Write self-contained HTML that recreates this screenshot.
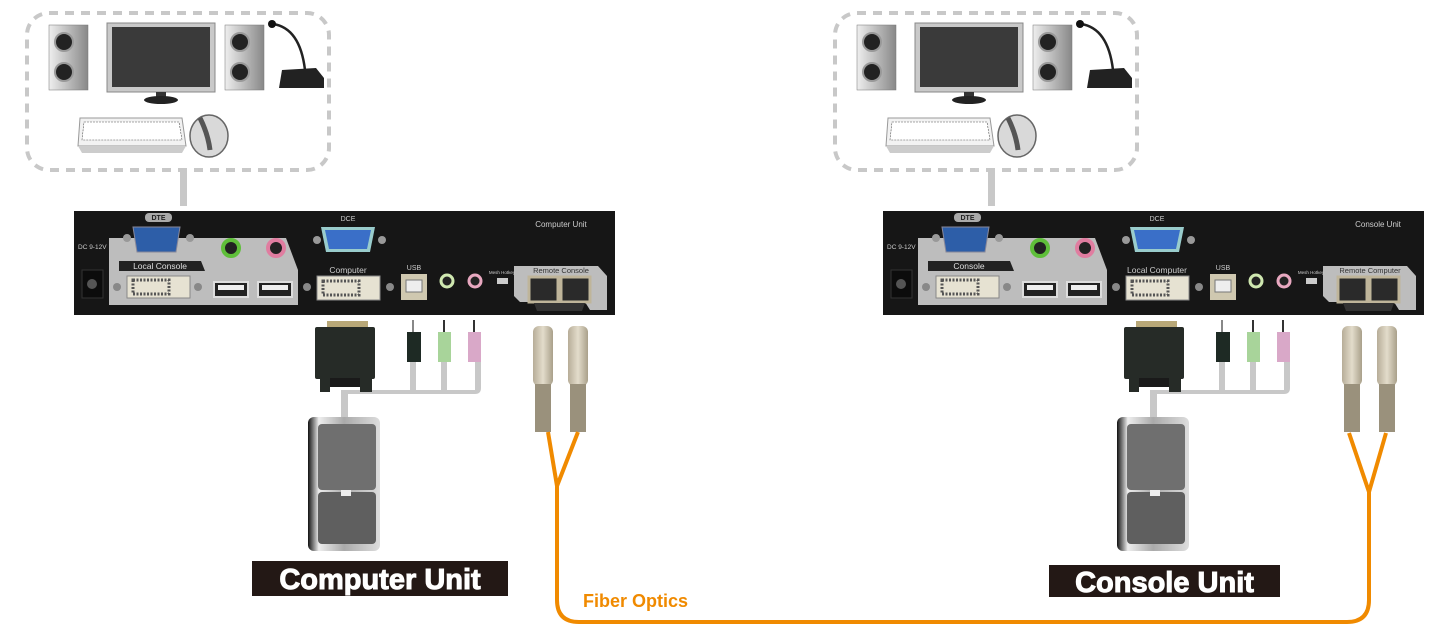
<!DOCTYPE html>
<html><head><meta charset="utf-8"><style>
html,body{margin:0;padding:0;background:#fff;}
svg{display:block;}
text{font-family:"Liberation Sans",sans-serif;}
</style></head><body>
<svg width="1450" height="634" viewBox="0 0 1450 634" xmlns="http://www.w3.org/2000/svg">
<defs>
<linearGradient id="spk" x1="0" x2="1"><stop offset="0" stop-color="#eee"/><stop offset=".5" stop-color="#bbb"/><stop offset="1" stop-color="#888"/></linearGradient>
<linearGradient id="tw" x1="0" x2="1"><stop offset="0" stop-color="#111"/><stop offset=".15" stop-color="#eee"/><stop offset=".5" stop-color="#aaa"/><stop offset="1" stop-color="#ddd"/></linearGradient>
<linearGradient id="fc" x1="0" x2="1"><stop offset="0" stop-color="#b7ad98"/><stop offset=".5" stop-color="#e3dccb"/><stop offset="1" stop-color="#a9a08a"/></linearGradient>
<g id="periph">
 <rect x="27" y="13" width="302" height="157" rx="22" fill="none" stroke="#c8c8c8" stroke-width="4" stroke-dasharray="9 7"/>
 <rect x="180" y="170" width="7" height="36" fill="#c8c8c8"/>
 <rect x="49" y="25" width="39" height="65" fill="url(#spk)" stroke="#777" stroke-width="0.5"/>
 <circle cx="64" cy="42" r="9" fill="#222" stroke="#999" stroke-width="2"/><circle cx="64" cy="72" r="9" fill="#222" stroke="#999" stroke-width="2"/>
 <rect x="225" y="25" width="39" height="65" fill="url(#spk)" stroke="#777" stroke-width="0.5"/>
 <circle cx="240" cy="42" r="9" fill="#222" stroke="#999" stroke-width="2"/><circle cx="240" cy="72" r="9" fill="#222" stroke="#999" stroke-width="2"/>
 <rect x="107" y="23" width="108" height="69" fill="#c9c9c9" stroke="#888"/>
 <rect x="112" y="27" width="98" height="60" fill="#3a3a3a"/>
 <rect x="156" y="92" width="10" height="5" fill="#333"/><ellipse cx="161" cy="100" rx="17" ry="4" fill="#222"/>
 <path d="M273,24 Q300,28 305,70" fill="none" stroke="#222" stroke-width="2.5"/><circle cx="272" cy="24" r="4" fill="#111"/>
 <path d="M282,70 L316,68 L324,78 L324,88 L279,88 Z" fill="#222"/>
 <path d="M80,118 L182,118 L186,146 L78,146 Z" fill="#f2f2f2" stroke="#999"/>
 <path d="M84,122 L179,122 L182,140 L82,140 Z" fill="#fff" stroke="#555" stroke-width="0.6" stroke-dasharray="2 1"/>
 <path d="M78,146 L186,146 L182,153 L82,153 Z" fill="#ccc"/>
 <ellipse cx="209" cy="136" rx="19" ry="21" fill="#d9d9d9" stroke="#666" stroke-width="1.5"/>
 <path d="M200,118 Q208,134 210,150" stroke="#555" stroke-width="5" fill="none"/>
</g>
<g id="unit">
 <rect x="74" y="211" width="541" height="104" fill="#161616"/>
 <path d="M109,238 L286,238 L298,270 L298,305 L109,305 Z" fill="#bdbdbd"/>
 <path d="M119,261 L201,261 L205,271 L119,271 Z" fill="#222"/>
 <rect x="145" y="213" width="27" height="9" rx="4" fill="#aaa"/>
 <path d="M133,227 L180,227 L176,252 L137,252 Z" fill="#2d5ea8" stroke="#889" stroke-width="1"/>
 <circle cx="127" cy="238" r="4" fill="#999"/><circle cx="190" cy="238" r="4" fill="#999"/>
 <circle cx="231" cy="248" r="8" fill="#222" stroke="#5fbf3a" stroke-width="4"/>
 <circle cx="276" cy="248" r="8" fill="#222" stroke="#e07da0" stroke-width="4"/>
 <rect x="127" y="276" width="63" height="22" fill="#e6e2d2" stroke="#888"/>
 <rect x="133" y="280" width="36" height="14" fill="none" stroke="#555" stroke-dasharray="2 1.5" stroke-width="3"/>
 <circle cx="117" cy="287" r="4" fill="#888"/><circle cx="198" cy="287" r="4" fill="#888"/>
 <rect x="214" y="282" width="34" height="15" fill="#222" stroke="#ddd" stroke-width="2"/><rect x="218" y="285" width="26" height="5" fill="#eee"/>
 <rect x="258" y="282" width="34" height="15" fill="#222" stroke="#ddd" stroke-width="2"/><rect x="262" y="285" width="26" height="5" fill="#eee"/>
 <rect x="82" y="270" width="21" height="28" fill="#0c0c0c" stroke="#333"/><circle cx="92" cy="284" r="5" fill="#555"/>
 <rect x="317" y="276" width="63" height="24" fill="#e6e2d2" stroke="#888"/>
 <rect x="323" y="281" width="36" height="14" fill="none" stroke="#555" stroke-dasharray="2 1.5" stroke-width="3"/>
 <circle cx="307" cy="287" r="4" fill="#888"/><circle cx="390" cy="287" r="4" fill="#888"/>
 <path d="M321,227 L375,227 L370,252 L326,252 Z" fill="#9cc" /><path d="M325,230 L371,230 L367,249 L329,249 Z" fill="#3a6fc8"/>
 <circle cx="317" cy="240" r="4" fill="#999"/><circle cx="382" cy="240" r="4" fill="#999"/>
 <rect x="401" y="274" width="26" height="26" fill="#cfc8b0"/><rect x="406" y="280" width="16" height="12" fill="#eee" stroke="#777"/>
 <circle cx="447" cy="281" r="6" fill="#222" stroke="#cfe8b0" stroke-width="3"/>
 <circle cx="475" cy="281" r="6" fill="#222" stroke="#e8a8c0" stroke-width="3"/>
 <rect x="497" y="278" width="11" height="6" fill="#ccc"/>
 <path d="M514,266 L598,266 L607,276 L607,310 L590,310 L585,302 L520,302 L514,296 Z" fill="#bdbdbd"/>
 <rect x="529" y="277" width="29" height="25" fill="#2a2a2a" stroke="#bfb59a" stroke-width="3"/>
 <rect x="561" y="277" width="29" height="25" fill="#2a2a2a" stroke="#bfb59a" stroke-width="3"/>
 <path d="M534,303 L585,303 L582,311 L537,311 Z" fill="#333"/>
 <g fill="#c8c8c8"><rect x="341" y="392" width="7" height="26"/><path d="M341,394 L475,394 Q481,394 481,388 L481,360 L475,360 L475,390 L341,390 Z"/>
 <rect x="410" y="360" width="6" height="34"/><rect x="441" y="360" width="6" height="34"/></g>
 <rect x="327" y="321" width="41" height="7" fill="#b8a878"/>
 <rect x="315" y="327" width="60" height="52" rx="2" fill="#262b27"/>
 <rect x="320" y="378" width="10" height="14" fill="#262b27"/><rect x="360" y="378" width="12" height="14" fill="#262b27"/><rect x="330" y="378" width="30" height="9" fill="#1a1a1a"/>
 <rect x="412" y="320" width="2" height="12" fill="#888"/><rect x="407" y="332" width="14" height="30" fill="#1e2a24"/>
 <rect x="443" y="320" width="2" height="12" fill="#333"/><rect x="438" y="332" width="13" height="30" fill="#a8d49a"/>
 <rect x="473" y="320" width="2" height="12" fill="#333"/><rect x="468" y="332" width="13" height="30" fill="#d9a8c8"/>
 <rect x="533" y="326" width="20" height="60" rx="6" fill="url(#fc)"/><rect x="535" y="384" width="16" height="48" fill="#9a917c"/>
 <rect x="568" y="326" width="20" height="60" rx="6" fill="url(#fc)"/><rect x="570" y="384" width="16" height="48" fill="#9a917c"/>
 <rect x="308" y="417" width="72" height="134" rx="6" fill="url(#tw)"/>
 <rect x="318" y="424" width="58" height="66" rx="4" fill="#6f6f6f"/><rect x="318" y="492" width="58" height="52" rx="4" fill="#5f5f5f"/>
 <rect x="341" y="490" width="10" height="6" fill="#eee"/>
</g>
</defs>
<use href="#periph"/>
<use href="#periph" x="808"/>
<use href="#unit"/>
<use href="#unit" x="809"/>
<g font-size="7" fill="#ccc">
 <text x="158.5" y="220" text-anchor="middle" fill="#222" font-size="7" font-weight="bold">DTE</text>
 <text x="967.5" y="220" text-anchor="middle" fill="#222" font-size="7" font-weight="bold">DTE</text>
 <text x="348" y="221" text-anchor="middle">DCE</text><text x="1157" y="221" text-anchor="middle">DCE</text>
 <text x="78" y="249" font-size="6.5">DC 9-12V</text><text x="887" y="249" font-size="6.5">DC 9-12V</text>
 <text x="160" y="269" text-anchor="middle" font-size="8.5" fill="#ddd">Local Console</text>
 <text x="969" y="269" text-anchor="middle" font-size="8.5" fill="#ddd">Console</text>
 <text x="348" y="273" text-anchor="middle" font-size="8.5">Computer</text>
 <text x="1157" y="273" text-anchor="middle" font-size="8.5">Local Computer</text>
 <text x="414" y="270" text-anchor="middle">USB</text><text x="1223" y="270" text-anchor="middle">USB</text>
 <text x="561" y="273" text-anchor="middle" fill="#333" font-size="7.5">Remote Console</text>
 <text x="1370" y="273" text-anchor="middle" fill="#333" font-size="7.5">Remote Computer</text>
 <text x="561" y="227" text-anchor="middle" font-size="8">Computer Unit</text>
 <text x="1378" y="227" text-anchor="middle" font-size="8">Console Unit</text>
 <text x="502" y="274" text-anchor="middle" font-size="4.5">Mesh Hotkey</text><text x="1311" y="274" text-anchor="middle" font-size="4.5">Mesh Hotkey</text>
</g>
<path d="M548,432 L557,486 L578,432 M557,486 L557,600 Q557,622 579,622 L1347,622 Q1369,622 1369,600 L1369,492 L1349,433 M1369,492 L1386,433" fill="none" stroke="#f08a00" stroke-width="4" stroke-linejoin="round"/>
<text x="583" y="607" font-size="18" font-weight="bold" fill="#f08a00">Fiber Optics</text>
<rect x="252" y="561" width="256" height="35" fill="#231815"/>
<text x="380" y="589" text-anchor="middle" font-size="29" font-weight="bold" fill="#fff" stroke="#fff" stroke-width="1">Computer Unit</text>
<rect x="1049" y="565" width="231" height="32" fill="#231815"/>
<text x="1164.5" y="592" text-anchor="middle" font-size="29" font-weight="bold" fill="#fff" stroke="#fff" stroke-width="1">Console Unit</text>
</svg>
</body></html>
